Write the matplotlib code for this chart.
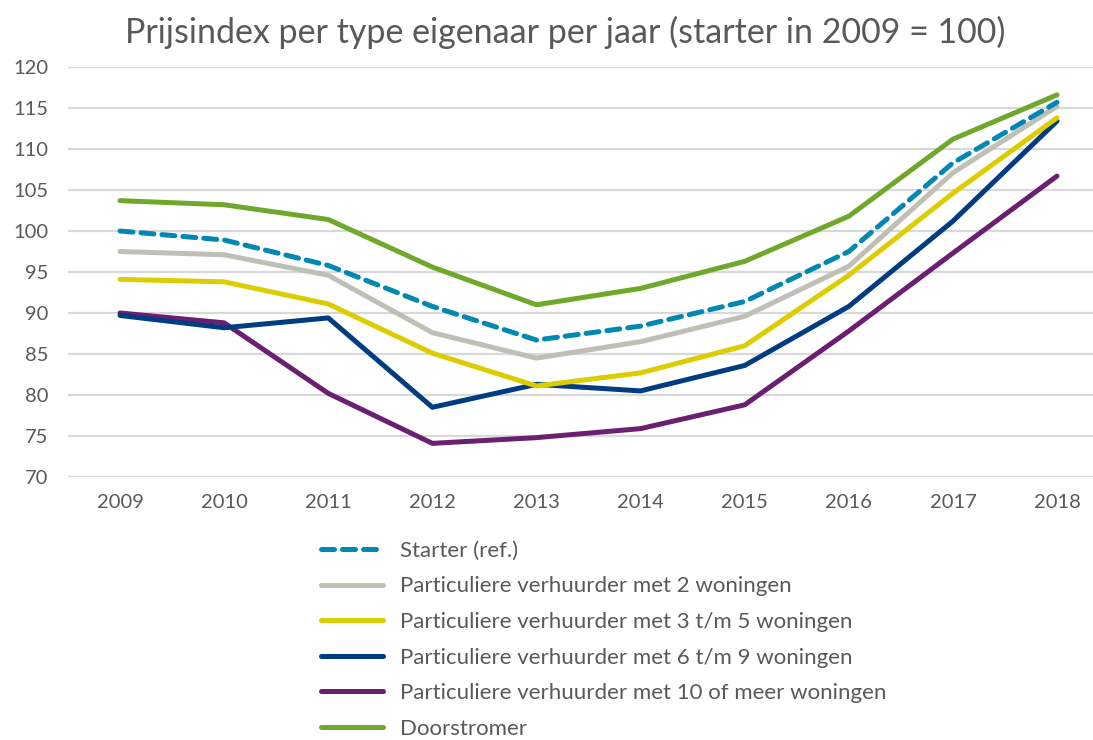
import matplotlib
matplotlib.use("Agg")
import matplotlib.pyplot as plt

# ---------------- Data ----------------
years = ["2009", "2010", "2011", "2012", "2013", "2014", "2015", "2016", "2017", "2018"]

starter      = [100.0, 98.9, 95.8, 90.8, 86.7, 88.4, 91.4, 97.5, 108.3, 115.7]
verh_2       = [97.5, 97.1, 94.6, 87.6, 84.5, 86.5, 89.6, 95.7, 107.1, 115.2]
verh_3_5     = [94.1, 93.8, 91.1, 85.1, 81.1, 82.7, 86.0, 94.6, 104.6, 113.8]
verh_6_9     = [89.7, 88.2, 89.4, 78.5, 81.3, 80.5, 83.6, 90.8, 101.2, 113.4]
verh_10plus  = [90.0, 88.8, 80.2, 74.1, 74.8, 75.9, 78.8, 87.8, 97.3, 106.7]
doorstromer  = [103.7, 103.2, 101.4, 95.6, 91.0, 93.0, 96.3, 101.8, 111.2, 116.6]

labels = [
    "Starter (ref.)",
    "Particuliere verhuurder met 2 woningen",
    "Particuliere verhuurder met 3 t/m 5 woningen",
    "Particuliere verhuurder met 6 t/m 9 woningen",
    "Particuliere verhuurder met 10 of meer woningen",
    "Doorstromer",
]
colors = ["#0087B2", "#BFBFB6", "#DDCC00", "#003C82", "#6B1F70", "#6FA82B"]
yticks = [70, 75, 80, 85, 90, 95, 100, 105, 110, 115, 120]

# ---------------- Plot ----------------
plt.rcParams["font.family"] = ["Lato", "DejaVu Sans"]
TXT = "#595959"

fig = plt.figure(figsize=(10.93, 7.40), dpi=100)
ax = fig.add_axes([68/1093, 1-477/740, (1093-68)/1093, (477-67)/740])

x = list(range(len(years)))
series = [starter, verh_2, verh_3_5, verh_6_9, verh_10plus, doorstromer]
for i, (vals, lab, col) in enumerate(zip(series, labels, colors)):
    if i == 0:
        ax.plot(x, vals, color=col, lw=3.6, ls=(0, (2.6, 1.6)),
                dash_capstyle="round", solid_capstyle="round", label=lab, zorder=9)
    else:
        ax.plot(x, vals, color=col, lw=3.6, solid_capstyle="round",
                solid_joinstyle="round", label=lab, zorder=3 + (6 - i))

ax.set_xlim(-0.5, 9 + (1093-1057)/104.1)
ax.set_ylim(70, 120)
ax.set_yticks(yticks)
ax.set_xticks(x)
ax.set_xticklabels(years)
ax.grid(axis="y", color="#D9D9D9", lw=1.6)
ax.set_axisbelow(True)
for s in ax.spines.values():
    s.set_visible(False)
ax.tick_params(length=0, labelsize=14.5, colors=TXT, pad=12)
ax.tick_params(axis="y", pad=14)

fig.text(565/1093, 1-32/740, "Prijsindex per type eigenaar per jaar (starter in 2009 = 100)",
         ha="center", va="center", fontsize=24.5, color=TXT)

leg = fig.legend(loc="upper left", bbox_to_anchor=(312/1093, 1-532/740),
                 frameon=False, fontsize=16, handlelength=2.8, handletextpad=0.75,
                 labelspacing=0.70, borderaxespad=0)
for t in leg.get_texts():
    t.set_color(TXT)

fig.savefig("out.png", dpi=100)
